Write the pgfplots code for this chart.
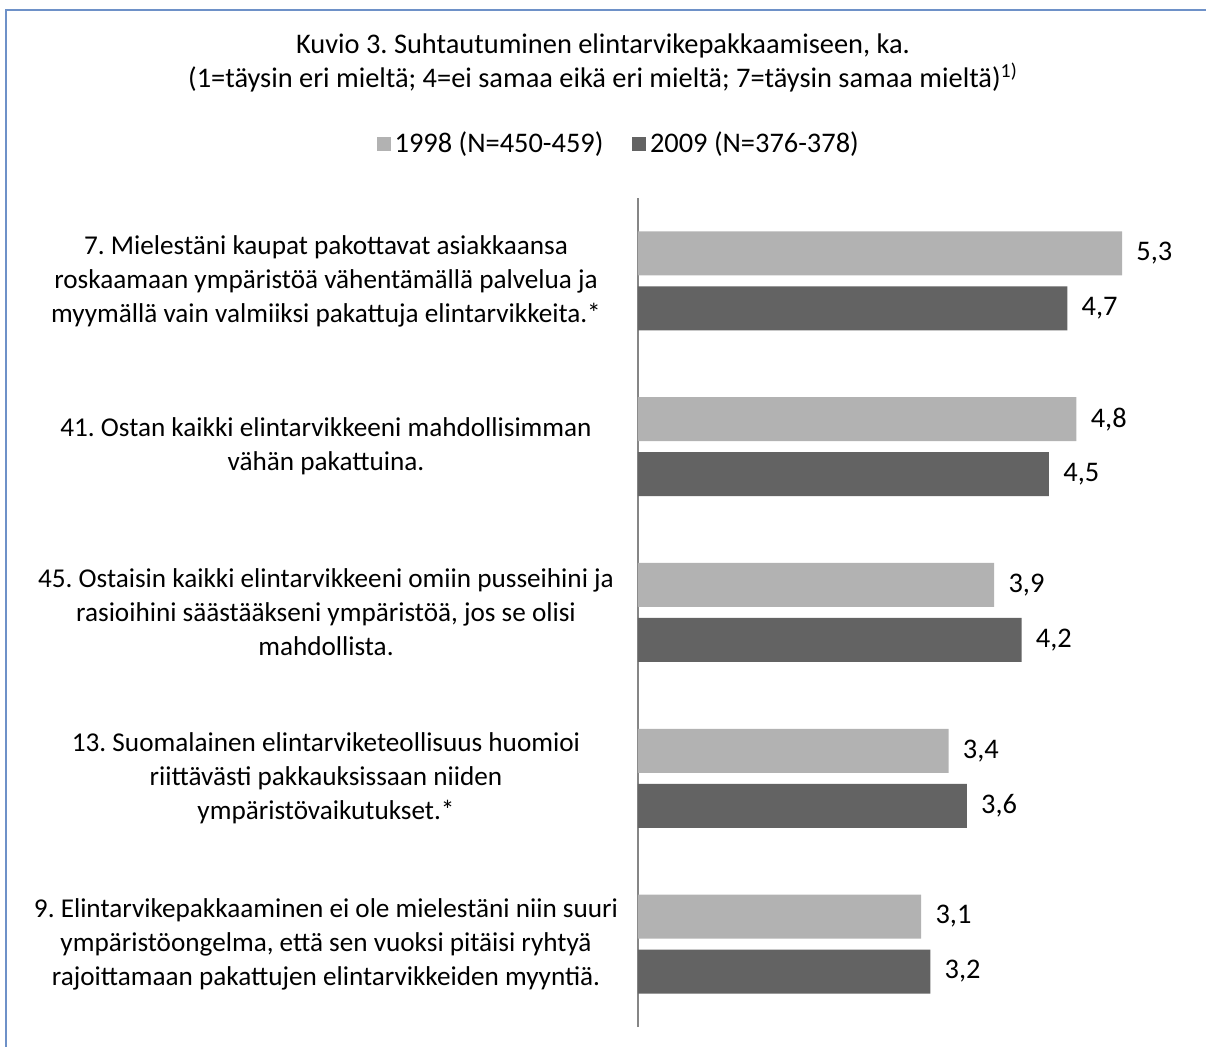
\documentclass[border=0pt]{standalone}
\usepackage{fontspec}
\setmainfont{Carlito}
\usepackage{pgfplots}
\pgfplotsset{compat=1.18}

\definecolor{barlight}{RGB}{178,178,178}
\definecolor{bardark}{RGB}{99,99,99}
\definecolor{framecol}{RGB}{110,145,200}
\definecolor{axisgray}{RGB}{134,134,134}

\newcommand{\chartfont}{\fontsize{14.2}{17}\selectfont\frenchspacing}
\newcommand{\labelfont}{\fontsize{13.6}{17}\selectfont\frenchspacing}

\begin{document}
\begin{tikzpicture}
\useasboundingbox (0,0) rectangle (603pt,-523.5pt);
\draw[framecol, line width=1pt] (3pt,-530pt) -- (3pt,-5pt) -- (610pt,-5pt);

\node[align=center, font=\chartfont] at (301.5pt,-31.5pt)
  {Kuvio 3. Suhtautuminen elintarvikepakkaamiseen, ka.\\
   (1=täysin eri mieltä; 4=ei samaa eikä eri mieltä; 7=täysin samaa mieltä)\textsuperscript{1)}};

\begin{axis}[
  at={(319pt,-513.5pt)}, anchor=south west,
  scale only axis, width=274pt, height=414.5pt,
  xbar, bar width=22pt,
  xmin=0, xmax=6, ymin=-0.5, ymax=4.5,
  axis x line=none, axis y line*=left,
  y axis line style={axisgray, line width=0.75pt},
  ytick={0,...,4},
  yticklabels={
    {9. Elintarvikepakkaaminen ei ole mielestäni niin suuri\\ympäristöongelma, että sen vuoksi pitäisi ryhtyä\\rajoittamaan pakattujen elintarvikkeiden myyntiä.},
    {13. Suomalainen elintarviketeollisuus huomioi\\riittävästi pakkauksissaan niiden\\ympäristövaikutukset.*},
    {45. Ostaisin kaikki elintarvikkeeni omiin pusseihini ja\\rasioihini säästääkseni ympäristöä, jos se olisi\\mahdollista.},
    {41. Ostan kaikki elintarvikkeeni mahdollisimman\\vähän pakattuina.},
    {7. Mielestäni kaupat pakottavat asiakkaansa\\roskaamaan ympäristöä vähentämällä palvelua ja\\myymällä vain valmiiksi pakattuja elintarvikkeita.*}
  },
  major tick length=0pt, ytick style={draw=none},
  yticklabel style={text width=340pt, align=flush center, anchor=center,
    inner sep=0pt, xshift=-156pt, font=\labelfont},
  point meta=x,
  nodes near coords={\pgfmathprintnumber[fixed,fixed zerofill,precision=1,use comma,assume math mode=true]{\pgfplotspointmeta}},
  every node near coord/.append style={anchor=west, inner sep=0pt, xshift=7pt, font=\chartfont, text=black},
  legend columns=2,
  legend style={at={(-0.033,1.065)}, anchor=center, draw=none, font=\chartfont,
    /tikz/every even column/.append style={column sep=12.5pt}},
  legend image code/.code={\fill[#1] (0pt,-3.4pt) rectangle (6.8pt,3.4pt);},
]
\addplot[fill=barlight, draw=none, bar shift=13.75pt] coordinates {
  (5.3,4) (4.8,3) (3.9,2) (3.4,1) (3.1,0)
};
\addplot[fill=bardark, draw=none, bar shift=-13.75pt] coordinates {
  (4.7,4) (4.5,3) (4.2,2) (3.6,1) (3.2,0)
};
\legend{1998 (N=450-459), 2009 (N=376-378)}
\end{axis}
\end{tikzpicture}
\end{document}
